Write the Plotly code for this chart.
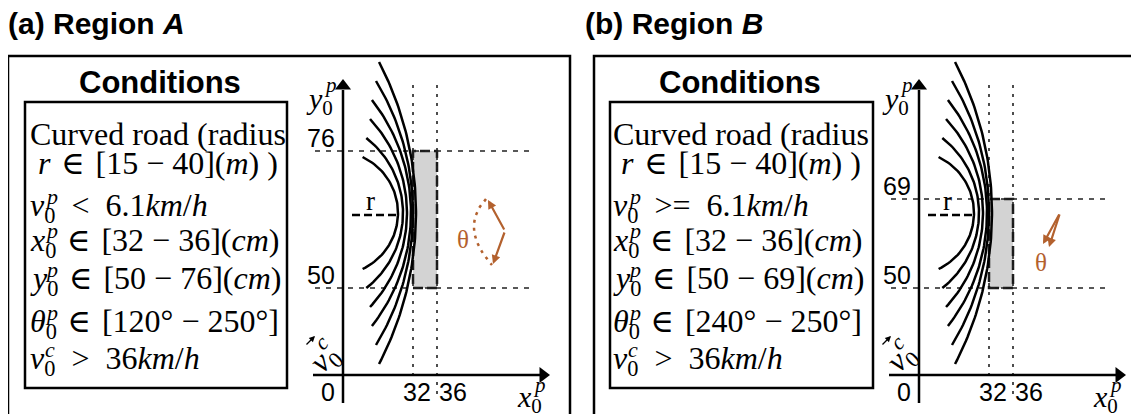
import numpy as np
import plotly.graph_objects as go

W, H = 1139, 414

# ---------------- data ----------------
panel_letters = ["a", "b"]
region_names = ["A", "B"]
road_radius_m = [15, 40]
v0p_relations = ["&lt;", "&gt;="]
v0p_threshold_kmh = 6.1
x0p_cm = [32, 36]
y0p_cm = [[50, 76], [50, 69]]
theta0p_deg = [[120, 250], [240, 250]]
v0c_threshold_kmh = 36
origin_label = "0"

# ---------------- layout geometry (screen pixels) ----------------
PAGE_OFF = 8   # the page body margin shifts the figure by this many pixels
panel_shift = [0, 576]
title_x = [6, 583]
frame_x = [(8, 570), (594, 1160)]
frame_top = 56
cond_box_x = [(25, 287), (610, 873)]
cond_box_y = (102, 388)
cond_text_x = [28, 611]
cond_title_x = [160, 740]
box_px_x = [(413, 437), (989, 1013)]
box_px_y = [(288, 151), (288, 199)]

BROWN = "#b3612e"
SERIF = "Liberation Serif, DejaVu Serif, serif"
SANS = "Liberation Sans, Arial, sans-serif"
EN = "\u2002"     # wide space around relations (as in typeset maths)
MID = "\u2004"


def px2paper_x(p):
    return (p - PAGE_OFF) / W


def px2paper_y(p):
    return 1 - (p - PAGE_OFF) / H


def make_map(i):
    vx0, vx1 = x0p_cm
    px0, px1 = box_px_x[i]
    vy0, vy1 = y0p_cm[i]
    py0, py1 = box_px_y[i]
    sx = (px1 - px0) / (vx1 - vx0)
    sy = (py1 - py0) / (vy1 - vy0)
    return (lambda p: vx0 + (p - px0) / sx), (lambda p: vy0 + (p - py0) / sy)


fig = go.Figure()
shapes = []
annotations = []
layout_axes = {}

# road curves geometry (screen pixels, panel a)
road_vertex_x = [398, 403, 407, 411, 413, 416]
road_radius_px = [62, 95, 138, 183, 254, 327]
road_half_span = [56, 75, 94, 113, 132, 151]
road_center_y = 213


def ann_paper(xp, yp, text, size, family=SERIF, color="black", **kw):
    d = dict(xref="paper", yref="paper", x=px2paper_x(xp), y=px2paper_y(yp), text=text,
             showarrow=False, xanchor="center", yanchor="middle",
             font=dict(family=family, size=size, color=color))
    d.update(kw)
    annotations.append(d)


for i in range(2):
    sh = panel_shift[i]
    fx, fy = make_map(i)
    xa = "x" if i == 0 else "x2"
    ya = "y" if i == 0 else "y2"
    xkey = "xaxis" if i == 0 else "xaxis2"
    ykey = "yaxis" if i == 0 else "yaxis2"
    d0, d1 = 295 + sh, min(585 + sh, W + PAGE_OFF)
    layout_axes[xkey] = dict(domain=[px2paper_x(d0), px2paper_x(d1)],
                             range=[fx(d0), fx(d1)], visible=False, fixedrange=True,
                             anchor=ya)
    layout_axes[ykey] = dict(domain=[0, 1], range=[fy(H + PAGE_OFF), fy(PAGE_OFF)],
                             visible=False, fixedrange=True, anchor=xa)

    def tr(x, y, **kw):
        fig.add_trace(go.Scatter(x=x, y=y, xaxis=xa, yaxis=ya, cliponaxis=False,
                                 hoverinfo="skip", showlegend=False, **kw))

    # --- frames ---
    shapes.append(dict(type="rect", xref="paper", yref="paper",
                       x0=px2paper_x(frame_x[i][0]), x1=px2paper_x(frame_x[i][1]),
                       y0=px2paper_y(frame_top), y1=px2paper_y(H + 30),
                       line=dict(color="black", width=2.5)))
    shapes.append(dict(type="rect", xref="paper", yref="paper",
                       x0=px2paper_x(cond_box_x[i][0]), x1=px2paper_x(cond_box_x[i][1]),
                       y0=px2paper_y(cond_box_y[0]), y1=px2paper_y(cond_box_y[1]),
                       line=dict(color="black", width=2.5)))

    # --- titles ---
    ann_paper(title_x[i], 23,
              f"<b>({panel_letters[i]}) Region <i>{region_names[i]}</i></b>", 30,
              family=SANS, xanchor="left")
    ann_paper(cond_title_x[i], 82, "<b>Conditions</b>", 31, family=SANS)

    # --- condition lines (superscripts stacked above subscripts) ---
    ylo, yhi = y0p_cm[i]
    t0, t1 = theta0p_deg[i]
    fs = 32
    lines = [
        ("Curved road (radius", None),
        (f"\u00a0<i>r</i>{MID}∈{MID}[{road_radius_m[0]} − {road_radius_m[1]}](<i>m</i>) )", None),
        (f"<i>v</i><sub>0</sub>{EN}{v0p_relations[i]}{EN}{v0p_threshold_kmh}<i>km</i>/<i>h</i>", "p"),
        (f"<i>x</i><sub>0</sub>{MID}∈{MID}[{x0p_cm[0]} − {x0p_cm[1]}](<i>cm</i>)", "p"),
        (f"<i>y</i><sub>0</sub>{MID}∈{MID}[{ylo} − {yhi}](<i>cm</i>)", "p"),
        (f"<i>θ</i><sub>0</sub>{MID}∈{MID}[{t0}° − {t1}°]", "p"),
        (f"<i>v</i><sub>0</sub>{EN}&gt;{EN}{v0c_threshold_kmh}<i>km</i>/<i>h</i>", "c"),
    ]
    baselines = [145, 174, 217, 252, 290, 333, 370]
    for (txt, sup), b in zip(lines, baselines):
        c = b - (0.296 if sup else 0.34) * fs
        ann_paper(cond_text_x[i], c, txt, fs, xanchor="left")
        if sup:
            ann_paper(cond_text_x[i] + 0.46 * fs, b - 21, f"<i>{sup}</i>", 22,
                      xanchor="left")

    # --- grey region box ---
    shapes.append(dict(type="rect", xref=xa, yref=ya, x0=x0p_cm[0], x1=x0p_cm[1],
                       y0=ylo, y1=yhi, fillcolor="#d3d3d3", layer="below",
                       line=dict(color="#1a1a1a", width=2.5, dash="10px,4px")))

    # --- dotted guide lines ---
    for v in (ylo, yhi):
        tr([fx(315 + sh), fx(532 + sh)], [v, v], mode="lines",
           line=dict(color="#222", width=1.4, dash="5px,6px"))
    for v, bot in zip(x0p_cm, (378, 400)):
        tr([v, v], [fy(85), fy(bot)], mode="lines",
           line=dict(color="#222", width=1.6, dash="3px,6px"))

    # --- road curves ---
    for xv, R, hs in zip(road_vertex_x, road_radius_px, road_half_span):
        dy = np.linspace(-hs, hs, 80)
        xs = xv - (R - np.sqrt(R ** 2 - dy ** 2)) + sh
        ys = road_center_y + dy
        tr([fx(p) for p in xs], [fy(p) for p in ys], mode="lines",
           line=dict(color="black", width=2.5))

    # --- r dashed line and label ---
    tr([fx(352 + sh), fx(400 + sh)], [fy(215), fy(215)], mode="lines",
       line=dict(color="black", width=2.5, dash="8px,4px"))
    ann_paper(371 + sh, 201, "r", 27)

    # --- axes with arrow heads ---
    ox, oy = 343 + sh, 375
    tr([fx(ox), fx(ox)], [fy(403), fy(90)], mode="lines",
       line=dict(color="black", width=2.5))
    tr([fx(ox)], [fy(86)], mode="markers",
       marker=dict(symbol="triangle-up", size=14, color="black"))
    tr([fx(313 + sh), fx(540 + sh)], [fy(oy), fy(oy)], mode="lines",
       line=dict(color="black", width=2.5))
    tr([fx(543 + sh)], [fy(oy)], mode="markers",
       marker=dict(symbol="triangle-right", size=14, color="black"))

    # --- tick labels ---
    tfont = dict(family=SANS, size=25, color="black")
    for v in (ylo, yhi):
        annotations.append(dict(xref=xa, yref=ya, x=fx(ox - 6), y=v, xanchor="right",
                                yanchor="middle", yshift=13, text=str(v), showarrow=False,
                                font=tfont))
    annotations.append(dict(xref=xa, yref=ya, x=fx(ox - 15), y=fy(392), text=origin_label,
                            xanchor="center", yanchor="middle", showarrow=False, font=tfont))
    for v, xs_ in zip(x0p_cm, (4, 16)):
        annotations.append(dict(xref=xa, yref=ya, x=v, y=fy(392), xshift=xs_, text=str(v),
                                xanchor="center", yanchor="middle", showarrow=False,
                                font=tfont))

    # --- axis variable labels (stacked sub/superscripts) ---
    ann_paper(319 + sh, 101, "<i>y</i><sub>0</sub>", 30)
    ann_paper(330 + sh, 85, "<i>p</i>", 21)
    ann_paper(529 + sh, 399, "<i>x</i><sub>0</sub>", 30)
    ann_paper(539 + sh, 385, "<i>p</i>", 21)
    ann_paper(325 + sh, 359, "<i>v</i><sub>0</sub>", 32, textangle=-45)
    ann_paper(321 + sh, 342, "<i>c</i>", 22, textangle=-45)
    annotations.append(dict(xref=xa, yref=ya, axref=xa, ayref=ya, x=fx(315 + sh), y=fy(336),
                            ax=fx(305 + sh), ay=fy(346), text="", showarrow=True,
                            arrowhead=2, arrowsize=0.9, arrowwidth=1.3, arrowcolor="black"))

    # --- theta glyph ---
    if i == 0:
        vx_, vy_ = 505, 231
        for hx, hy in ((488, 200), (493, 264)):
            annotations.append(dict(xref=xa, yref=ya, axref=xa, ayref=ya, x=fx(hx), y=fy(hy),
                                    ax=fx(vx_), ay=fy(vy_), text="", showarrow=True,
                                    arrowhead=2, arrowsize=0.8, arrowwidth=2.2,
                                    arrowcolor=BROWN))
        p0, pm, p2 = np.array([486, 199.0]), np.array([474, 230.0]), np.array([492, 265.0])
        p1 = 2 * pm - (p0 + p2) / 2
        t = np.linspace(0, 1, 40)[:, None]
        bz = (1 - t) ** 2 * p0 + 2 * (1 - t) * t * p1 + t ** 2 * p2
        tr([fx(p) for p in bz[:, 0]], [fy(p) for p in bz[:, 1]], mode="lines",
           line=dict(color=BROWN, width=2.5, dash="3px,5px"))
        lab = (463, 239)
    else:
        tx_, ty_ = 1060, 213
        for hx, hy in ((1043, 244), (1049, 247)):
            annotations.append(dict(xref=xa, yref=ya, axref=xa, ayref=ya, x=fx(hx), y=fy(hy),
                                    ax=fx(tx_), ay=fy(ty_), text="", showarrow=True,
                                    arrowhead=2, arrowsize=0.8, arrowwidth=2.2,
                                    arrowcolor=BROWN))
        lab = (1041, 263)
    ann_paper(lab[0], lab[1], "θ", 25, color=BROWN)

fig.update_layout(width=W, height=H, margin=dict(l=0, r=0, t=0, b=0),
                  paper_bgcolor="white", plot_bgcolor="rgba(0,0,0,0)",
                  shapes=shapes, annotations=annotations, showlegend=False,
                  **layout_axes)
fig.write_html("out.html")
